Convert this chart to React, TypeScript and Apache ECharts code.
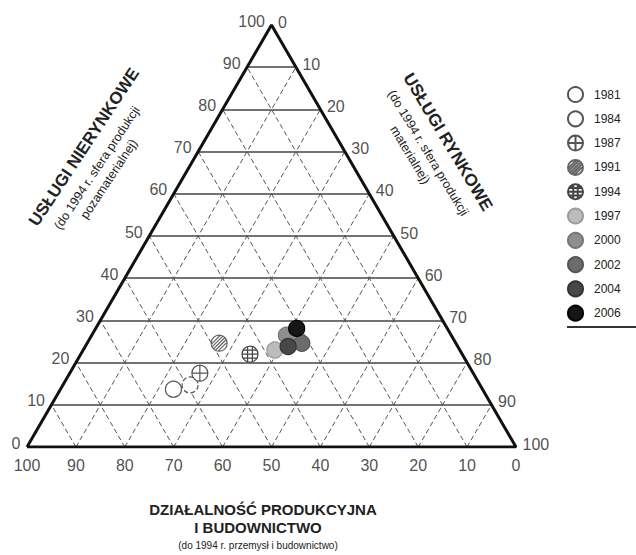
import React, { useEffect, useRef } from 'react';
import * as echarts from 'echarts';

// ---- data (percent shares) ----
const years = ['1981', '1984', '1987', '1991', '1994', '1997', '2000', '2002', '2004', '2006'];
const industryShare = [63.2, 59.3, 55.9, 48.4, 43.4, 37.8, 33.7, 31.5, 34.7, 30.8];
const marketShare = [23.1, 26.0, 26.6, 27.0, 34.6, 39.2, 39.8, 43.9, 41.5, 41.1];
const nonMarketShare = [13.7, 14.7, 17.5, 24.6, 22.0, 23.0, 26.5, 24.6, 23.8, 28.1];

const gridLevels = [10, 20, 30, 40, 50, 60, 70, 80, 90];
const tickValues = [0, 10, 20, 30, 40, 50, 60, 70, 80, 90, 100];

const FONT = 'Liberation Sans, Arial, sans-serif';

// ternary (non-market N, market M) -> cartesian on the library's axes
function tern(n: number, m: number): [number, number] {
  return [m + n / 2, n];
}

const C = 'M0,10 A10,10 0 1,1 20,10 A10,10 0 1,1 0,10 Z';
const crossPath = 'path://' + C + ' M0,10 L20,10 M10,0 L10,20';
const hatchPath =
  'path://' + C +
  ' M0.1,11.42 L11.42,0.1 M1.13,14.63 L14.63,1.13 M2.93,17.07 L17.07,2.93 M5.37,18.87 L18.87,5.37 M8.58,19.9 L19.9,8.58';
const gridPath =
  'path://' + C +
  ' M1.34,5 L18.66,5 M0,10 L20,10 M1.34,15 L18.66,15 M7,0.46 L7,19.54 M13,0.46 L13,19.54';

const symbols = ['circle', 'circle', crossPath, hatchPath, gridPath, 'circle', 'circle', 'circle', 'circle', 'circle'];
const fills = ['#ffffff', '#ffffff', '#ffffff', '#ffffff', '#ffffff', '#bcbcbc', '#8e8e8e', '#6c6c6c', '#474747', '#161616'];
const borders = ['#555', '#555', '#555', '#666', '#444', '#9a9a9a', '#777', '#555', '#333', '#000'];
const borderTypes = ['solid', 'dashed', 'solid', 'solid', 'solid', 'solid', 'solid', 'solid', 'solid', 'solid'];

function labelSeries(points: [number, number][], texts: number[], position: string, distance: number, offset: number[]) {
  return {
    type: 'scatter',
    silent: true,
    symbolSize: 1,
    itemStyle: { color: 'rgba(0,0,0,0)' },
    data: points.map((p, i) => ({ value: [p[0], p[1], texts[i]] })),
    label: {
      show: true,
      position,
      distance,
      offset,
      formatter: (p: any) => String(p.value[2]),
      fontSize: 16,
      color: '#222',
      fontFamily: FONT,
    },
    z: 5,
  };
}

function buildOption() {
  const series: any[] = [];
  // horizontal solid grid lines (constant non-market share)
  series.push({
    type: 'lines',
    coordinateSystem: 'cartesian2d',
    silent: true,
    lineStyle: { color: '#444', width: 1.6, type: 'solid', opacity: 1 },
    data: gridLevels.map((k) => ({ coords: [tern(k, 0), tern(k, 100 - k)] })),
    z: 1,
  });
  // dashed lines constant industry share
  series.push({
    type: 'lines',
    coordinateSystem: 'cartesian2d',
    silent: true,
    lineStyle: { color: '#555', width: 1, type: [5, 3], opacity: 1 },
    data: gridLevels.map((p) => ({ coords: [tern(0, 100 - p), tern(100 - p, 0)] })),
    z: 1,
  });
  // dashed lines constant market share
  series.push({
    type: 'lines',
    coordinateSystem: 'cartesian2d',
    silent: true,
    lineStyle: { color: '#555', width: 1, type: [5, 3], opacity: 1 },
    data: gridLevels.map((m) => ({ coords: [tern(0, m), tern(100 - m, m)] })),
    z: 1,
  });
  // triangle
  series.push({
    type: 'line',
    silent: true,
    showSymbol: false,
    symbol: 'none',
    lineStyle: { color: '#111', width: 3 },
    data: [tern(0, 0), tern(100, 0), tern(0, 100), tern(0, 0)],
    z: 2,
  });
  // tick labels
  series.push(labelSeries(tickValues.map((v) => tern(v, 0)), tickValues, 'left', 6, [0, -4]));
  series.push(labelSeries(tickValues.map((v) => tern(100 - v, v)), tickValues, 'right', 6, [0, -3]));
  series.push(labelSeries(tickValues.map((v) => tern(0, 100 - v)), tickValues, 'bottom', 10, [0, 0]));

  years.forEach((y, i) => {
    series.push({
      type: 'scatter',
      name: y,
      symbol: symbols[i],
      symbolSize: 16,
      itemStyle: {
        color: fills[i],
        borderColor: borders[i],
        borderWidth: 1.2,
        borderType: borderTypes[i],
        opacity: 1,
      },
      data: [tern(nonMarketShare[i], marketShare[i])],
      z: 10 + i,
    });
  });

  const deg = Math.PI / 180;
  return {
    animation: false,
    backgroundColor: '#ffffff',
    grid: { left: 27, right: 120, top: 25, bottom: 108 },
    xAxis: { type: 'value', min: 0, max: 100, show: false },
    yAxis: { type: 'value', min: 0, max: 100, show: false },
    legend: {
      data: years,
      orient: 'vertical',
      left: 562,
      top: 81,
      itemWidth: 15,
      itemHeight: 15,
      itemGap: 7.3,
      textStyle: { fontSize: 12, color: '#222', fontFamily: FONT, padding: [0, 0, 0, 6] },
    },
    graphic: [
      { type: 'line', shape: { x1: 567, y1: 327, x2: 636, y2: 327 }, style: { stroke: '#333', lineWidth: 2 } },
      {
        type: 'text', x: 263, y: 509,
        style: { text: 'DZIAŁALNOŚĆ PRODUKCYJNA', fill: '#222', fontSize: 15, fontWeight: 'bold', fontFamily: FONT, align: 'center', verticalAlign: 'middle' },
      },
      {
        type: 'text', x: 258, y: 527,
        style: { text: 'I BUDOWNICTWO', fill: '#222', fontSize: 15, fontWeight: 'bold', fontFamily: FONT, align: 'center', verticalAlign: 'middle' },
      },
      {
        type: 'text', x: 258, y: 545,
        style: { text: '(do 1994 r. przemysł i budownictwo)', fill: '#222', fontSize: 10, fontFamily: FONT, align: 'center', verticalAlign: 'middle' },
      },
      {
        type: 'text', x: 84, y: 147, rotation: 56.5 * deg,
        style: { text: 'USŁUGI NIERYNKOWE', fill: '#222', fontSize: 17, fontWeight: 'bold', fontFamily: FONT, align: 'center', verticalAlign: 'middle' },
      },
      {
        type: 'text', x: 97, y: 168, rotation: 56.5 * deg,
        style: { text: '(do 1994 r. sfera produkcji', fill: '#222', fontSize: 12.5, fontFamily: FONT, align: 'center', verticalAlign: 'middle' },
      },
      {
        type: 'text', x: 109, y: 179, rotation: 56.5 * deg,
        style: { text: 'pozamaterialnej)', fill: '#222', fontSize: 12.5, fontFamily: FONT, align: 'center', verticalAlign: 'middle' },
      },
      {
        type: 'text', x: 448, y: 142, rotation: -59 * deg,
        style: { text: 'USŁUGI RYNKOWE', fill: '#222', fontSize: 17, fontWeight: 'bold', fontFamily: FONT, align: 'center', verticalAlign: 'middle' },
      },
      {
        type: 'text', x: 428, y: 153, rotation: -59 * deg,
        style: { text: '(do 1994 r. sfera produkcji', fill: '#222', fontSize: 12.5, fontFamily: FONT, align: 'center', verticalAlign: 'middle' },
      },
      {
        type: 'text', x: 410, y: 155, rotation: -59 * deg,
        style: { text: 'materialnej)', fill: '#222', fontSize: 12.5, fontFamily: FONT, align: 'center', verticalAlign: 'middle' },
      },
    ],
    series,
  };
}

export default function App() {
  const ref = useRef<HTMLDivElement>(null);
  useEffect(() => {
    const chart = echarts.init(ref.current!, null, { renderer: 'svg' });
    chart.setOption(buildOption() as any);
    return () => chart.dispose();
  }, []);
  return (
    <div
      ref={ref}
      style={{ position: 'absolute', left: 0, top: 0, width: 636, height: 555, background: '#fff' }}
    />
  );
}
